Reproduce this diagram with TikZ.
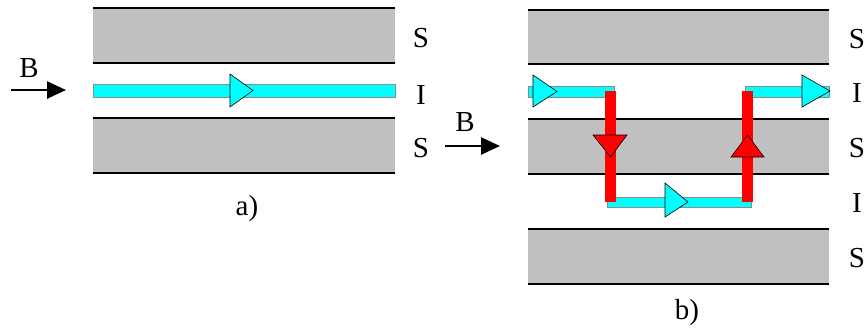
\documentclass[tikz,border=0pt]{standalone}
\usepackage{fontspec}
\setmainfont{Liberation Serif}
\usetikzlibrary{arrows.meta}
\definecolor{bandgray}{HTML}{C0C0C0}
\definecolor{flux}{HTML}{00FFFF}
\definecolor{vortex}{HTML}{FF0000}
\tikzset{
  lbl/.style={font=\fontsize{29}{30}\selectfont, inner sep=0pt},
  band/.style={fill=bandgray},
  edge/.style={line width=1.3pt, black},
  cyanline/.style={fill=flux, draw=black!45, line width=0.4pt},
  redline/.style={fill=vortex},
  head/.style={draw=black, line width=0.6pt, line join=miter},
  barrow/.style={line width=2.6pt, -{Triangle[length=19pt,width=17pt]}}
}
\begin{document}
\begin{tikzpicture}[x=1pt,y=-1pt]
\useasboundingbox (0,0) rectangle (866,330);
% ---------- panel a ----------
\fill[band] (93,8) rectangle (395,63);
\fill[band] (93,118) rectangle (395,173);
\foreach \yy in {8,63,118,173} \draw[edge] (93,\yy) -- (395,\yy);
\filldraw[cyanline] (93,84.5) rectangle (395,97);
\filldraw[head, fill=flux] (230,74) -- (253,90.5) -- (230,107) -- cycle;
\node[lbl] (sa1) at (421,38) {S};
\node[lbl] (ia) at (421,95) {I};
\node[lbl] (sa2) at (421,148) {S};
\node[lbl] (ba) at (29,68) {B};
\coordinate (baS) at (11,90);
\coordinate (baE) at (66,90);
\draw[barrow] (baS) -- (baE);
\node[lbl] (capa) at (247,209) {a)};
% ---------- panel b ----------
\fill[band] (528,10) rectangle (829,64);
\fill[band] (528,119) rectangle (829,174);
\fill[band] (528,229) rectangle (829,284);
\foreach \yy in {10,64,119,174,229,284} \draw[edge] (528,\yy) -- (829,\yy);
% cyan segments
\filldraw[cyanline] (528,86) rectangle (614,97);
\filldraw[cyanline] (745,86) rectangle (829,97);
\filldraw[cyanline] (607,197) rectangle (751,207);
% red segments
\fill[redline] (605,91) rectangle (616,202);
\fill[redline] (742,91) rectangle (753,202);
% arrowheads
\filldraw[head, fill=flux] (533,75) -- (557,91.5) -- (533,107) -- cycle;
\filldraw[head, fill=flux] (802,75) -- (830,91) -- (802,107) -- cycle;
\filldraw[head, fill=flux] (665,183) -- (688,202) -- (665,217) -- cycle;
\filldraw[head, fill=vortex] (593,135) -- (610.5,157) -- (627,135) -- cycle;
\filldraw[head, fill=vortex] (731,157) -- (747.5,135) -- (764,157) -- cycle;
\node[lbl] (sb1) at (857,39) {S};
\node[lbl] (ib1) at (857,93) {I};
\node[lbl] (sb2) at (857,148) {S};
\node[lbl] (ib2) at (857,203) {I};
\node[lbl] (sb3) at (857,258) {S};
\node[lbl] (bb) at (465,122) {B};
\coordinate (bbS) at (445,146);
\coordinate (bbE) at (500,146);
\draw[barrow] (bbS) -- (bbE);
\node[lbl] (capb) at (687,313) {b)};
\end{tikzpicture}
\end{document}
